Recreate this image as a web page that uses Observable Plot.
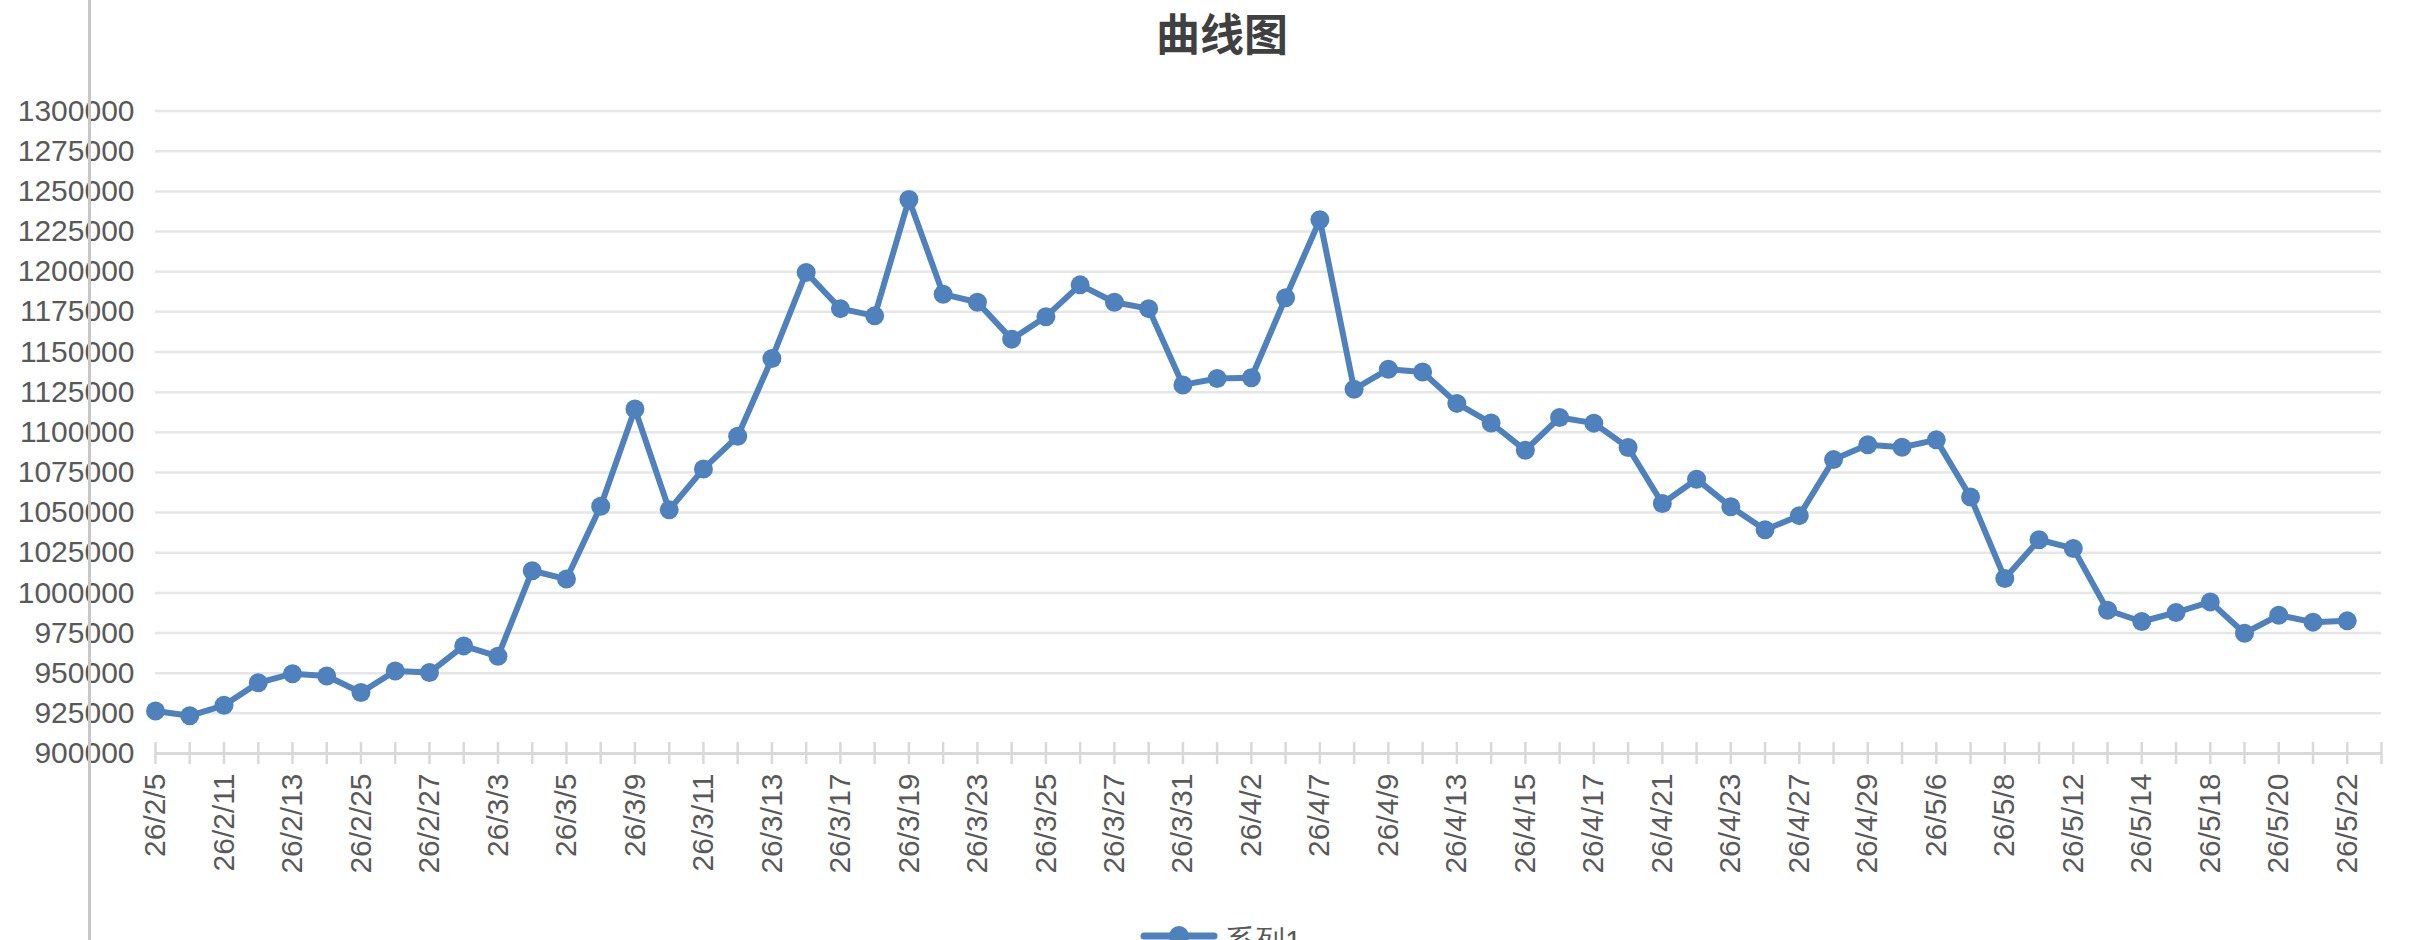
<!DOCTYPE html>
<html>
<head>
<meta charset="utf-8">
<script src="https://cdn.jsdelivr.net/npm/d3@7"></script>
<script src="https://cdn.jsdelivr.net/npm/@observablehq/plot@0.6"></script>
<style>
  html, body { margin: 0; padding: 0; background: #fff; overflow: hidden; }
  #wrap { position: relative; width: 2410px; height: 940px; overflow: hidden; }
  #title { position: absolute; left: 0; width: 2444px; top: 8px; text-align: center;
    font-family: "Noto Sans CJK SC", sans-serif; font-weight: 700; font-size: 44px; line-height: 48px; color: #404040; }
  #vbar { position: absolute; left: 88px; top: 0; width: 3px; height: 940px; background: #c8c8c8; z-index: 5; }
  #legend { position: absolute; left: 1130px; top: 905px; }
</style>
</head>
<body>
<div id="wrap">
  <div id="title">曲线图</div>
  <div id="chart"></div>
  <svg id="legend" width="300" height="60"></svg>
  <div id="vbar"></div>
</div>
<script>
const title = "曲线图";
const seriesName = "系列1";

const dates = [
  "26/2/5","26/2/10","26/2/11","26/2/12","26/2/13","26/2/24","26/2/25","26/2/26","26/2/27","26/3/2",
  "26/3/3","26/3/4","26/3/5","26/3/6","26/3/9","26/3/10","26/3/11","26/3/12","26/3/13","26/3/16",
  "26/3/17","26/3/18","26/3/19","26/3/20","26/3/23","26/3/24","26/3/25","26/3/26","26/3/27","26/3/30",
  "26/3/31","26/4/1","26/4/2","26/4/3","26/4/7","26/4/8","26/4/9","26/4/10","26/4/13","26/4/14",
  "26/4/15","26/4/16","26/4/17","26/4/20","26/4/21","26/4/22","26/4/23","26/4/24","26/4/27","26/4/28",
  "26/4/29","26/4/30","26/5/6","26/5/7","26/5/8","26/5/11","26/5/12","26/5/13","26/5/14","26/5/15",
  "26/5/18","26/5/19","26/5/20","26/5/21","26/5/22"
];

const values = [
  926500, 923500, 930000, 944000, 949700, 948300, 938000, 951400, 950400, 967000,
  960500, 1013800, 1008600, 1054000, 1114500, 1051700, 1077200, 1097500, 1146000, 1199500,
  1177000, 1172500, 1245000, 1186000, 1181000, 1158000, 1172000, 1191800, 1181000, 1177000,
  1129500, 1133500, 1134000, 1183800, 1232300, 1126800, 1139300, 1137500, 1118000, 1105800,
  1088800, 1109200, 1105700, 1090500, 1055700, 1070800, 1053600, 1039300, 1048100, 1083000,
  1092200, 1090700, 1095300, 1059700, 1009000, 1033100, 1027700, 989200, 982200, 987800,
  994400, 974900, 986100, 981800, 982600
];

const tickLabels = [
  "26/2/5","26/2/11","26/2/13","26/2/25","26/2/27","26/3/3","26/3/5","26/3/9","26/3/11","26/3/13",
  "26/3/17","26/3/19","26/3/23","26/3/25","26/3/27","26/3/31","26/4/2","26/4/7","26/4/9","26/4/13",
  "26/4/15","26/4/17","26/4/21","26/4/23","26/4/27","26/4/29","26/5/6","26/5/8","26/5/12","26/5/14",
  "26/5/18","26/5/20","26/5/22"
];

const yTicks = [900000, 925000, 950000, 975000, 1000000, 1025000, 1050000, 1075000, 1100000,
  1125000, 1150000, 1175000, 1200000, 1225000, 1250000, 1275000, 1300000];

const rows = dates.map((d, i) => ({date: d, value: values[i]}));
const xDomain = dates.concat([""]);  // trailing empty category slot

const blue = "#4F81BD";
const fontFamily = '"Liberation Sans", Arial, Helvetica, sans-serif';

document.getElementById("title").textContent = title;

const chart = Plot.plot({
  width: 2410,
  height: 940,
  marginLeft: 155,
  marginRight: 29,
  marginTop: 110.6,
  marginBottom: 187,
  style: {fontFamily, background: "transparent", overflow: "visible"},
  x: {type: "point", domain: xDomain, padding: 0, round: false, label: null},
  y: {domain: [900000, 1300000], label: null},
  marks: [
    Plot.gridY(yTicks, {stroke: "#e6e6e6", strokeWidth: 2.5, strokeOpacity: 1}),
    Plot.ruleY([900000], {stroke: "#d9d9d9", strokeWidth: 3}),
    Plot.axisY(yTicks, {tickSize: 0, tickPadding: 21, tickFormat: d3.format("d"),
      fontSize: 30, fill: "#595959", label: null}),
    Plot.axisX(xDomain, {tickSize: 22, dy: -11, tickFormat: () => "", stroke: "#d9d9d9",
      strokeWidth: 2.5, label: null}),
    Plot.axisX(tickLabels, {tickSize: 0, tickPadding: 20, tickRotate: -90,
      fontSize: 30, fill: "#595959", label: null}),
    Plot.line(rows, {x: "date", y: "value", stroke: blue, strokeWidth: 6,
      strokeLinejoin: "round", strokeLinecap: "round"}),
    Plot.dot(rows, {x: "date", y: "value", r: 9.5, fill: blue, stroke: "none"})
  ]
});
document.getElementById("chart").appendChild(chart);

// legend (cut off at the bottom edge like the reference)
const lg = d3.select("#legend");
lg.append("line").attr("x1", 14).attr("x2", 84).attr("y1", 31).attr("y2", 31)
  .attr("stroke", blue).attr("stroke-width", 7).attr("stroke-linecap", "round");
lg.append("circle").attr("cx", 49).attr("cy", 31).attr("r", 10).attr("fill", blue);
lg.append("text").attr("x", 95).attr("y", 46).attr("font-size", 30)
  .attr("font-family", fontFamily).attr("fill", "#595959").text(seriesName);
</script>
</body>
</html>
